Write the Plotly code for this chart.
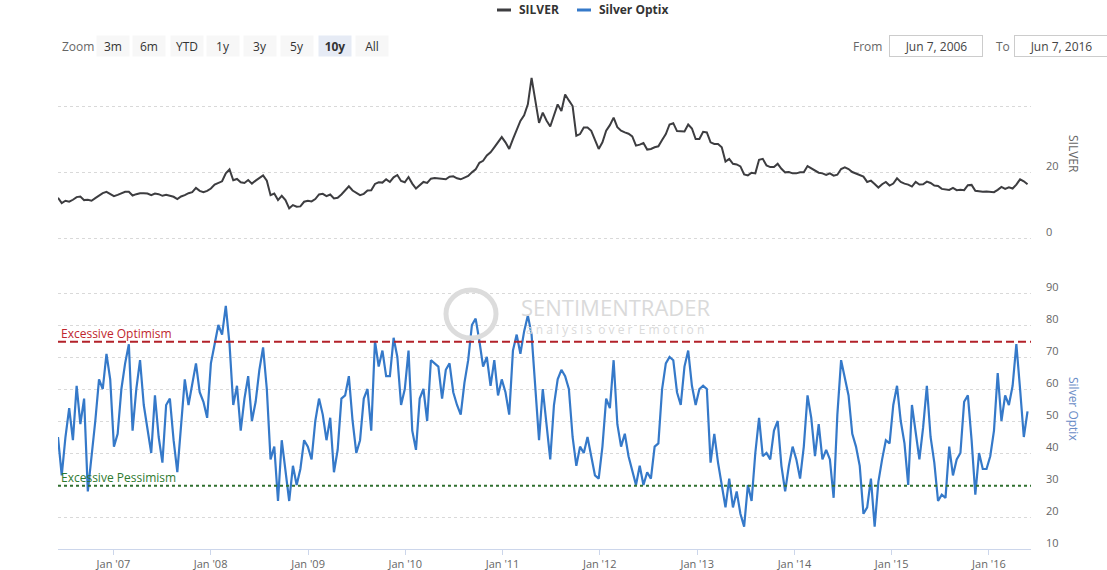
import pandas as pd
import plotly.graph_objects as go

# silver close, sampled every 14 days from 2006-06-07
silver = [
    12.2, 10.6, 11.3, 11.0, 11.6, 12.4, 12.6, 11.5, 11.6, 11.3, 12.1, 12.9, 13.6, 14.0, 13.3,
    12.7, 13.1, 13.5, 14.0, 14.0, 12.9, 13.3, 13.6, 13.6, 13.5, 13.0, 13.5, 13.3, 12.8, 13.1,
    12.9, 12.5, 11.8, 12.6, 13.0, 13.6, 13.9, 15.2, 14.3, 13.9, 14.3,
    15.0, 16.2, 16.6, 17.2, 19.6, 20.8, 17.5, 17.9, 16.9, 16.7, 17.6, 16.5, 17.4, 18.1, 19.0,
    17.4, 13.0, 13.5, 11.5, 12.8, 11.5, 9.0, 10.0, 9.5, 9.6, 11.0, 11.3,
    11.1, 11.8, 13.2, 13.4, 12.7, 13.2, 12.0, 12.2, 13.2, 14.5, 15.7, 14.4, 13.6, 13.0, 13.4,
    14.4, 14.5, 16.4, 16.9, 16.8, 17.8, 17.0, 18.4, 19.1, 17.3, 16.9,
    18.5, 16.5, 15.0, 16.1, 17.0, 16.7, 18.0, 18.2, 18.0, 18.0, 17.8, 18.6, 18.7, 18.1, 17.8,
    18.3, 18.8, 19.9, 20.8, 22.8, 23.4, 25.0, 26.0, 27.5, 28.9, 30.6,
    29.0, 27.0, 30.0, 33.0, 35.5, 37.2, 40.5, 48.5, 42.0, 34.9, 38.0, 35.6, 33.8, 37.0, 40.5,
    38.5, 43.5, 41.7, 40.0, 31.0, 31.5, 33.5, 33.5, 32.5, 29.5, 27.0,
    29.0, 32.5, 34.2, 36.5, 33.6, 32.5, 32.0, 31.6, 30.8, 28.0, 28.3, 28.8, 26.8, 27.0, 27.5,
    27.8, 29.7, 31.5, 34.4, 34.8, 32.4, 32.3, 32.3, 34.4, 33.2, 30.0,
    30.0, 32.2, 32.0, 29.0, 28.5, 28.5, 27.5, 23.2, 24.0, 22.5, 22.3, 21.7, 19.3, 19.0, 19.8,
    19.6, 23.7, 24.0, 22.0, 21.5, 21.5, 22.5, 21.0, 19.9, 20.0, 19.6,
    19.6, 19.9, 19.9, 21.8, 21.2, 20.5, 19.8, 19.6, 19.1, 19.6, 18.9, 19.2, 20.9, 21.4, 20.9,
    20.0, 19.5, 19.2, 18.6, 17.0, 17.4, 16.4, 15.3, 16.3, 17.0, 15.9,
    16.5, 18.1, 17.0, 16.5, 16.2, 15.6, 17.0, 16.2, 16.3, 17.1, 16.7, 15.9, 15.8, 14.9, 14.7,
    14.6, 15.2, 14.5, 14.6, 14.5, 16.0, 16.1, 14.3, 14.1, 14.0, 14.1,
    14.0, 13.9, 14.6, 15.5, 14.9, 15.4, 15.0, 16.2, 17.8, 17.2, 16.3,
]

# Silver Optix, same 14-day sampling
optix = [
    45, 33, 45, 54, 44, 61, 49, 57, 28, 38, 50, 63, 60, 71, 63,
    42, 46, 60, 68, 74, 47, 60, 69, 55, 48, 40, 58, 45, 37, 55,
    57, 44, 34, 50, 63, 55, 61, 68, 59, 56, 51,
    68, 74, 80, 77, 86, 74, 55, 61, 47, 57, 64, 50, 56, 66, 73,
    60, 38, 42, 25, 44, 34, 25, 36, 30, 35, 44, 42,
    38, 50, 57, 52, 44, 51, 34, 41, 57, 58, 64, 50, 40, 44, 57,
    60, 47, 75, 67, 72, 64, 64, 76, 70, 55, 60,
    72, 47, 41, 57, 60, 50, 69, 68, 67, 57, 66, 68, 59, 55, 52,
    62, 69, 80, 82, 75, 67, 70, 61, 69, 58, 63,
    59, 52, 72, 77, 71, 78, 83, 77, 60, 44, 60, 48, 38, 55, 63,
    66, 64, 60, 45, 36, 42, 40, 45, 39, 33, 32,
    42, 57, 54, 69, 49, 42, 46, 39, 34, 30, 36, 30, 34, 32, 42,
    43, 60, 68, 70, 69, 59, 55, 67, 72, 61, 55,
    60, 61, 60, 37, 46, 37, 30, 23, 32, 23, 28, 21, 17, 30, 25,
    40, 51, 39, 40, 38, 47, 50, 36, 28, 36, 42,
    38, 32, 42, 58, 51, 39, 49, 38, 41, 38, 26, 52, 69, 63, 58,
    46, 42, 36, 21, 23, 32, 17, 31, 38, 44, 43,
    55, 61, 50, 43, 30, 55, 46, 38, 48, 61, 45, 37, 25, 27, 26,
    42, 33, 38, 40, 56, 58, 44, 27, 40, 35, 35,
    39, 47, 65, 50, 58, 55, 61, 74, 60, 45, 53,
]

optimism_level = 74.8
pessimism_level = 29.8

tick_years = list(range(2007, 2017))
tick_dates = [f"{y}-01-01" for y in tick_years]
tick_labels = [f"Jan '{str(y)[2:]}" for y in tick_years]

silver_dates = pd.date_range("2006-06-07", periods=len(silver), freq="14D")
optix_dates = pd.date_range("2006-06-07", periods=len(optix), freq="14D")

FONT = "Open Sans, Lato, DejaVu Sans, sans-serif"
SILVER_COLOR = "#3d3d40"
OPTIX_COLOR = "#3579c9"
GRID = "#d9d9d9"

# plot area in pixels: left 58, right 1031, top 74, bottom 549
def px(x):
    return (x - 58) / 973


def py(y):
    return (549 - y) / 475


fig = go.Figure()
fig.add_trace(
    go.Scatter(
        x=silver_dates, y=silver, name="SILVER", mode="lines",
        line=dict(color=SILVER_COLOR, width=2), xaxis="x2", yaxis="y",
    )
)
fig.add_trace(
    go.Scatter(
        x=optix_dates, y=optix, name="Silver Optix", mode="lines",
        line=dict(color=OPTIX_COLOR, width=2.2), xaxis="x", yaxis="y2",
    )
)

shapes = [
    dict(type="line", xref="x domain", yref="y2", x0=0, x1=1,
         y0=optimism_level, y1=optimism_level,
         line=dict(color="#b3222a", width=2, dash="8px,4px")),
    dict(type="line", xref="x domain", yref="y2", x0=0, x1=1,
         y0=pessimism_level, y1=pessimism_level,
         line=dict(color="#2f6f2f", width=2, dash="3px,3px")),
    # legend swatches
    dict(type="line", xref="paper", yref="paper", x0=px(497), x1=px(511),
         y0=py(10), y1=py(10), line=dict(color=SILVER_COLOR, width=3)),
    dict(type="line", xref="paper", yref="paper", x0=px(577), x1=px(591),
         y0=py(10), y1=py(10), line=dict(color=OPTIX_COLOR, width=3)),
    # watermark logo ring
    dict(type="circle", xref="paper", yref="paper", x0=px(446), x1=px(496),
         y0=py(338), y1=py(290), line=dict(color="#dcdcdc", width=5)),
]

annotations = [
    dict(text="<b>SILVER</b>", x=px(517), y=py(10), xanchor="left"),
    dict(text="<b>Silver Optix</b>", x=px(597), y=py(10), xanchor="left"),
    dict(text="Excessive Optimism", x=px(59), y=py(334), xanchor="left",
         font=dict(color="#c0262d", size=12, family=FONT)),
    dict(text="Excessive Pessimism", x=px(59), y=py(477), xanchor="left",
         font=dict(color="#2f7a2f", size=12, family=FONT)),
    dict(text="SILVER", x=px(1074), y=py(154), textangle=90,
         font=dict(color="#666666", size=12, family=FONT)),
    dict(text="Silver Optix", x=px(1074), y=py(409), textangle=90,
         font=dict(color="#6a8cc6", size=12, family=FONT)),
    dict(text="SENTIMENTRADER", x=px(519), y=py(307), xanchor="left",
         font=dict(color="#dadada", size=22, family=FONT)),
    dict(text="a n a l y s i s  o v e r  E m o t i o n", x=px(524), y=py(329),
         xanchor="left", font=dict(color="#dadada", size=12, family=FONT)),
    dict(text="Zoom", x=px(60), y=py(46), xanchor="left",
         font=dict(color="#666666", size=12, family=FONT)),
    dict(text="From", x=px(851), y=py(46), xanchor="left",
         font=dict(color="#666666", size=12, family=FONT)),
    dict(text="To", x=px(994), y=py(46), xanchor="left",
         font=dict(color="#666666", size=12, family=FONT)),
]

buttons = ["3m", "6m", "YTD", "1y", "3y", "5y", "10y", "All"]
button_x = [113, 149, 187, 223, 260, 297, 335, 372]
for label, bx in zip(buttons, button_x):
    active = label == "10y"
    annotations.append(
        dict(text=f"<b>{label}</b>" if active else label, x=px(bx), y=py(46),
             width=30, height=18, bgcolor="#e6ebf5" if active else "#f7f7f7",
             font=dict(color="#333333", size=12, family=FONT))
    )
for text, bx in [("Jun 7, 2006", 936), ("Jun 7, 2016", 1061)]:
    annotations.append(
        dict(text=text, x=px(bx), y=py(46), width=90, height=18,
             bordercolor="#cccccc", borderwidth=1, borderpad=1,
             font=dict(color="#444444", size=12, family=FONT))
    )

for a in annotations:
    a.setdefault("xref", "paper")
    a.setdefault("yref", "paper")
    a.setdefault("xanchor", "center")
    a.setdefault("yanchor", "middle")
    a.setdefault("showarrow", False)
    a.setdefault("font", dict(color="#333333", size=12, family=FONT))

fig.update_layout(
    width=1107,
    height=570,
    margin=dict(l=58, r=1107 - 1031, t=74, b=570 - 549),
    paper_bgcolor="white",
    plot_bgcolor="white",
    showlegend=False,
    font=dict(family=FONT, color="#666666", size=11),
    shapes=shapes,
    annotations=annotations,
    xaxis=dict(
        anchor="y2", domain=[0, 1],
        range=["2006-06-07", "2016-06-07"],
        tickvals=tick_dates, ticktext=tick_labels,
        ticks="outside", ticklen=5, tickcolor="#ccd6eb",
        showline=True, linecolor="#ccd6eb", linewidth=1,
        showgrid=False, zeroline=False, automargin=False,
        tickfont=dict(size=11, color="#666666"),
    ),
    xaxis2=dict(
        anchor="y", matches="x", visible=False,
    ),
    yaxis=dict(
        domain=[py(245), 1], side="right", range=[-2.1, 49.7],
        tickvals=[0, 20, 40], ticktext=["0", "20", ""],
        showgrid=True, gridcolor=GRID, griddash="dot", gridwidth=1,
        zeroline=False, showline=False, ticks="",
        ticklabelstandoff=14, ticklabelshift=-6, automargin=False,
        tickfont=dict(size=11, color="#666666"),
    ),
    yaxis2=dict(
        domain=[0, py(261)], side="right", range=[10, 100],
        tickvals=list(range(10, 101, 10)),
        ticktext=[str(v) for v in range(10, 100, 10)] + [""],
        showgrid=True, gridcolor=GRID, griddash="dot", gridwidth=1,
        zeroline=False, showline=False, ticks="",
        ticklabelstandoff=14, ticklabelshift=-6, automargin=False,
        tickfont=dict(size=11, color="#666666"),
    ),
)

# drop the default 8px body margin so the figure sits at the page corner
fig.write_html(
    "out.html",
    config={"displayModeBar": False},
    post_script="document.body.style.margin = '0';",
)
